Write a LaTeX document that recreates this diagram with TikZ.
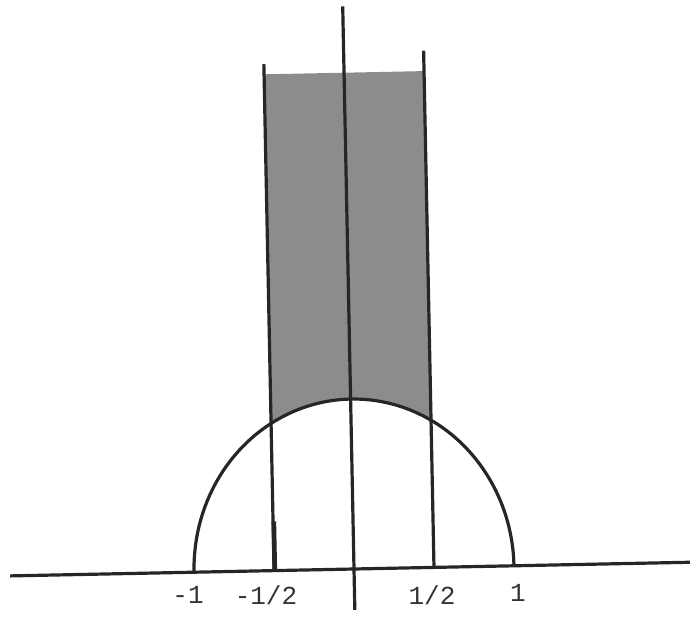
\documentclass[tikz,border=0pt]{standalone}
\usepackage{fontspec}
\setmonofont{Liberation Mono}
\begin{document}
\begin{tikzpicture}[x=1pt,y=1pt,
  lbl/.style={font=\fontsize{26}{28}\selectfont\ttfamily, text=black!80, inner sep=0pt, anchor=center},
  ln/.style={line width=3.2pt, black!85}]
\useasboundingbox (0,0) rectangle (690,616);
\begin{scope}[shift={(354,47)}, rotate=1.15, x=160pt, y=170pt]
  % shaded fundamental domain
  \fill[black!45] plot[domain=120:60, samples=40] ({cos(\x)},{sin(\x)}) -- (0.5,2.92) -- (-0.5,2.92) -- cycle;
  % real axis
  \draw[ln] (-2.15,0) -- (2.15,0);
  % imaginary axis
  \draw[ln] (0,-0.24) -- (0,3.31);
  % lines Re z = -1/2, 1/2
  \draw[ln] (-0.5,0) -- (-0.5,2.98);
  \draw[ln] (0.5,0) -- (0.5,3.04);
  \draw[line width=4.6pt, black!85] (-0.495,0) -- (-0.495,0.29);
  % unit semicircle
  \draw[ln] plot[domain=0:180, samples=120] ({cos(\x)},{sin(\x)});
\end{scope}
\node[lbl] (m1) at (188,21) {-1};
\node[lbl] (mh) at (266,21) {-1/2};
\node[lbl] (ph) at (432,21) {1/2};
\node[lbl] (p1) at (518,23) {1};
\end{tikzpicture}
\end{document}
